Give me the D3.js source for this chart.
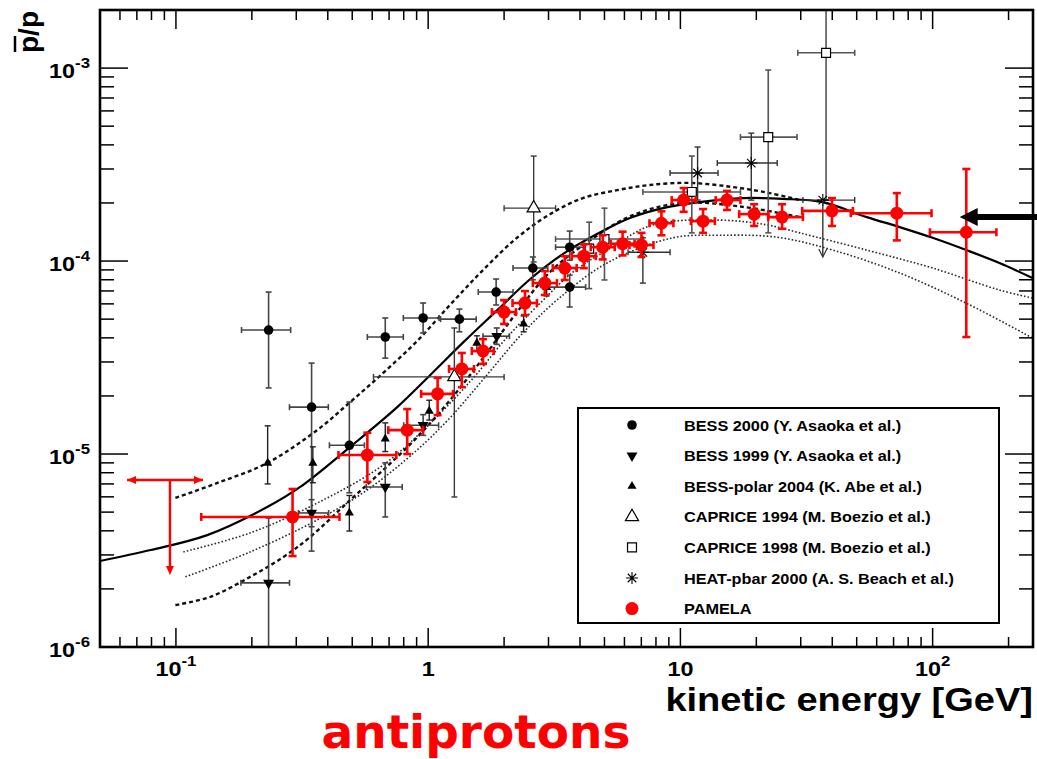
<!DOCTYPE html>
<html>
<head>
<meta charset="utf-8">
<script src="https://cdn.jsdelivr.net/npm/d3@7"></script>
<style>
  body { margin: 0; background: #fff; }
  svg { display: block; }
</style>
</head>
<body>
<svg id="chart" width="1037" height="759"></svg>
<script>
// ---- data: [E (GeV), pbar/p, Elo, Ehi, rlo, rhi] ----
const pamela = [
  [0.290, 4.72e-6, 0.126, 0.445, 2.96e-6, 6.59e-6],
  [0.574, 9.88e-6, 0.441, 0.748, 7.16e-6, 1.29e-5],
  [0.826, 1.33e-5, 0.695, 0.955, 1.00e-5, 1.71e-5],
  [1.09, 2.05e-5, 0.938, 1.255, 1.59e-5, 2.48e-5],
  [1.36, 2.76e-5, 1.21, 1.52, 2.22e-5, 3.34e-5],
  [1.65, 3.42e-5, 1.49, 1.82, 2.93e-5, 3.94e-5],
  [2.00, 5.44e-5, 1.79, 2.23, 4.72e-5, 6.27e-5],
  [2.42, 6.06e-5, 2.16, 2.70, 5.25e-5, 6.99e-5],
  [2.90, 7.69e-5, 2.60, 3.24, 6.67e-5, 8.87e-5],
  [3.48, 9.20e-5, 3.12, 3.88, 7.98e-5, 1.06e-4],
  [4.14, 1.06e-4, 3.71, 4.62, 9.19e-5, 1.22e-4],
  [4.92, 1.18e-4, 4.41, 5.49, 1.02e-4, 1.36e-4],
  [5.90, 1.23e-4, 5.29, 6.58, 1.07e-4, 1.42e-4],
  [7.01, 1.21e-4, 6.28, 7.82, 1.05e-4, 1.40e-4],
  [8.41, 1.57e-4, 7.54, 9.38, 1.36e-4, 1.81e-4],
  [10.3, 2.07e-4, 9.24, 11.5, 1.80e-4, 2.39e-4],
  [12.3, 1.61e-4, 11.0, 13.7, 1.40e-4, 1.86e-4],
  [15.3, 2.07e-4, 13.8, 17.3, 1.84e-4, 2.31e-4],
  [19.6, 1.75e-4, 17.1, 22.3, 1.52e-4, 1.97e-4],
  [25.3, 1.69e-4, 22.3, 30.6, 1.47e-4, 1.97e-4],
  [39.9, 1.82e-4, 30.4, 48.3, 1.52e-4, 2.12e-4],
  [72.1, 1.77e-4, 47.4, 99.0, 1.28e-4, 2.25e-4],
  [136, 1.41e-4, 97.6, 179, 4.04e-5, 3.0e-4]
];
// upper limit: [E, r, Elo, Ehi, arrow end]
const pamelaLimit = [0.0947, 7.33e-6, 0.064, 0.128, 2.36e-6];

const bess2000 = [
  [0.233, 4.39e-5, 0.182, 0.285, 2.20e-5, 6.91e-5],
  [0.345, 1.75e-5, 0.282, 0.402, 3.14e-6, 2.96e-5],
  [0.487, 1.11e-5, 0.406, 0.559, 6.3e-6, 1.86e-5],
  [0.676, 4.04e-5, 0.574, 0.797, 3.14e-5, 5.07e-5],
  [0.955, 5.07e-5, 0.797, 1.105, 4.24e-5, 6.06e-5],
  [1.33, 5.0e-5, 1.12, 1.55, 4.3e-5, 5.64e-5],
  [1.86, 6.91e-5, 1.58, 2.17, 5.92e-5, 8.07e-5],
  [2.60, 9.20e-5, 2.17, 2.98, 8.0e-5, 1.05e-4],
  [3.64, 1.18e-4, 3.2, 4.2, 1.01e-4, 1.43e-4],
  [3.64, 7.33e-5, 2.98, 4.21, 5.78e-5, 8.46e-5]
];
const bess1999 = [
  [0.233, 2.15e-6, 0.181, 0.282, 5e-7, 4.66e-6],
  [0.345, 4.95e-6, 0.306, 0.403, 4.2e-6, 5.8e-6],
  [0.676, 6.75e-6, 0.569, 0.789, 4.72e-6, 9.0e-6],
  [0.955, 1.41e-5, 0.80, 1.10, 1.25e-5, 1.6e-5],
  [1.87, 4.08e-5, 1.65, 2.10, 3.7e-5, 4.5e-5]
];
const bessPolar = [
  [0.231, 8.98e-6, null, null, 7.0e-6, 1.40e-5],
  [0.349, 8.98e-6, null, null, 7.1e-6, 1.09e-5],
  [0.487, 4.95e-6, null, null, 3.99e-6, 6.1e-6],
  [0.676, 1.20e-5, null, null, 1.03e-5, 1.45e-5],
  [1.01, 1.67e-5, null, null, 1.5e-5, 1.9e-5],
  [1.56, 3.76e-5, null, null, 3.4e-5, 4.1e-5],
  [2.39, 4.72e-5, null, null, 4.3e-5, 5.2e-5],
  [2.95, 7.3e-5, null, null, 6.6e-5, 8.0e-5]
];
const caprice1994 = [
  [1.27, 2.51e-5, 0.607, 2.0, 5.99e-6, 4.5e-5],
  [2.62, 1.88e-4, 2.0, 3.2, 9.89e-5, 3.5e-4]
];
const caprice1998 = [
  [4.35, 1.16e-4, null, null, 7.2e-5, 1.59e-4],
  [5.0, 1.30e-4, 3.2, 7.1, 7.98e-5, 1.88e-4],
  [11.1, 2.28e-4, 7.1, 17.3, 1.40e-4, 3.50e-4],
  [22.3, 4.39e-4, 17.3, 29.0, 1.40e-4, 9.77e-4],
  [37.8, 1.20e-3, 29.2, 49.1, 2.07e-4, 5e-3]
];
const heat2000 = [
  [7.1, 1.11e-4, 6.2, 9.1, 7.69e-5, 1.32e-4],
  [11.7, 2.86e-4, 9.1, 14.1, 2.07e-4, 3.90e-4],
  [19.1, 3.22e-4, 14.0, 24.2, 2.07e-4, 4.6e-4],
  [36.7, 2.07e-4, 30.6, 49.1, null, null]
];
const heatLimit = [36.7, 2.07e-4, 1.05e-4];

// ---- model curves: [E, r] ----
const curveSolid = [
  [0.05, 2.79e-6], [0.0793, 3.18e-6], [0.133, 3.80e-6], [0.230, 5.31e-6], [0.311, 6.75e-6],
  [0.491, 1.09e-5], [0.754, 1.75e-5], [1.02, 2.57e-5], [1.38, 3.80e-5], [1.88, 5.57e-5],
  [2.54, 8.07e-5], [3.43, 1.09e-4], [4.67, 1.38e-4], [6.31, 1.67e-4], [8.53, 1.88e-4],
  [11.9, 2.02e-4], [17.7, 2.12e-4], [25.5, 2.10e-4], [36.6, 2.02e-4], [54.8, 1.69e-4],
  [74.0, 1.50e-4], [100, 1.32e-4], [136, 1.14e-4], [184, 9.77e-5], [249, 8.17e-5]
];
const curveDashUp = [
  [0.0995, 5.92e-6], [0.146, 7.08e-6], [0.230, 8.98e-6], [0.363, 1.33e-5], [0.491, 1.86e-5],
  [0.663, 2.63e-5], [0.904, 3.85e-5], [1.22, 5.92e-5], [1.65, 8.98e-5], [2.25, 1.32e-4],
  [3.04, 1.75e-4], [4.11, 2.12e-4], [5.61, 2.33e-4], [7.57, 2.48e-4], [10.9, 2.54e-4],
  [16.1, 2.42e-4], [22.6, 2.25e-4], [29.7, 2.07e-4]
];
const curveDashLow = [
  [0.0995, 1.65e-6], [0.137, 1.82e-6], [0.197, 2.31e-6], [0.267, 2.93e-6], [0.341, 3.72e-6],
  [0.491, 5.78e-6], [0.663, 8.26e-6], [0.904, 1.22e-5], [1.22, 1.90e-5], [1.65, 3.14e-5],
  [2.25, 5.44e-5], [3.04, 8.77e-5], [4.38, 1.28e-4], [6.48, 1.73e-4], [10.2, 2.00e-4],
  [17.7, 1.91e-4], [29.7, 1.69e-4]
];
const curveDotUp = [
  [0.107, 3.11e-6], [0.197, 3.90e-6], [0.363, 5.57e-6], [0.663, 8.77e-6], [1.05, 1.50e-5],
  [1.51, 2.48e-5], [2.06, 4.04e-5], [2.78, 6.05e-5], [3.75, 8.77e-5], [5.12, 1.14e-4],
  [7.78, 1.54e-4], [14.3, 1.63e-4], [22.0, 1.54e-4], [29.7, 1.40e-4], [54.8, 1.14e-4],
  [100, 9.20e-5], [184, 7.08e-5], [249, 6.43e-5]
];
const curveDotLow = [
  [0.109, 2.31e-6], [0.197, 3.11e-6], [0.363, 4.55e-6], [0.573, 6.51e-6], [0.904, 1.05e-5],
  [1.22, 1.54e-5], [1.71, 2.57e-5], [2.31, 4.08e-5], [3.24, 6.28e-5], [5.12, 9.77e-5],
  [9.34, 1.32e-4], [14.3, 1.36e-4], [24.1, 1.33e-4], [40.2, 1.14e-4], [74.0, 8.67e-5],
  [136, 6.05e-5], [249, 3.99e-5]
];

// big annotation arrow: [E tip, E tail, r]
const sideArrow = [128, 262, 1.69e-4];

const xTickValues = [0.1, 1, 10, 100];
const xTickText = [['10', '-1'], ['1', ''], ['10', ''], ['10', '2']];
const yTickValues = [1e-6, 1e-5, 1e-4, 1e-3];
const yTickText = [['10', '-6'], ['10', '-5'], ['10', '-4'], ['10', '-3']];

const legendLabels = [
  'BESS 2000 (Y. Asaoka et al.)',
  'BESS 1999 (Y. Asaoka et al.)',
  'BESS-polar 2004 (K. Abe et al.)',
  'CAPRICE 1994 (M. Boezio et al.)',
  'CAPRICE 1998 (M. Boezio et al.)',
  'HEAT-pbar 2000 (A. S. Beach et al.)',
  'PAMELA'
];
const legendMarkers = ['circle', 'down', 'up', 'openTri', 'square', 'star', 'red'];

// ---- layout ----
const font = "'Liberation Sans', Arial, Helvetica, sans-serif";
const plot = { left: 100, right: 1033, top: 10, bottom: 647 };
const svg = d3.select('#chart');

const x = d3.scaleLog().domain([0.05, 250]).range([plot.left, plot.right]);
const y = d3.scaleLog().domain([1e-6, 2e-3]).range([plot.bottom, plot.top]);

svg.append('defs').append('clipPath').attr('id', 'plotclip')
  .append('rect')
  .attr('x', plot.left).attr('y', plot.top)
  .attr('width', plot.right - plot.left).attr('height', plot.bottom - plot.top);

const data = svg.append('g').attr('clip-path', 'url(#plotclip)');

// curves
const line = d3.line().x(d => x(d[0])).y(d => y(d[1])).curve(d3.curveCatmullRom.alpha(0.5));
function drawCurve(pts, width, dash, color) {
  data.append('path').attr('d', line(pts))
    .attr('fill', 'none').attr('stroke', color).attr('stroke-width', width)
    .attr('stroke-dasharray', dash);
}
drawCurve(curveDotUp, 1.6, '1.6,2', '#2a2a2a');
drawCurve(curveDotLow, 1.6, '1.6,2', '#2a2a2a');
drawCurve(curveDashUp, 2.4, '4,3', '#111');
drawCurve(curveDashLow, 2.4, '4,3', '#111');
drawCurve(curveSolid, 2.2, null, '#000');

// markers
function drawMarker(g, kind, cx, cy) {
  const t = `translate(${cx},${cy})`;
  if (kind === 'circle') {
    g.append('circle').attr('cx', cx).attr('cy', cy).attr('r', 4.8).attr('fill', '#000');
  } else if (kind === 'red') {
    g.append('circle').attr('cx', cx).attr('cy', cy).attr('r', 6.5).attr('fill', '#ff0000');
  } else if (kind === 'down') {
    g.append('path').attr('d', d3.symbol(d3.symbolTriangle, 52)())
      .attr('transform', t + ' rotate(180)').attr('fill', '#000');
  } else if (kind === 'up') {
    g.append('path').attr('d', d3.symbol(d3.symbolTriangle, 36)())
      .attr('transform', t).attr('fill', '#000');
  } else if (kind === 'openTri') {
    g.append('path').attr('d', d3.symbol(d3.symbolTriangle, 75)())
      .attr('transform', t).attr('fill', '#fff').attr('stroke', '#000').attr('stroke-width', 1.2);
  } else if (kind === 'square') {
    g.append('path').attr('d', d3.symbol(d3.symbolSquare, 80)())
      .attr('transform', t).attr('fill', '#fff').attr('stroke', '#000').attr('stroke-width', 1.2);
  } else if (kind === 'star') {
    const r = 6;
    const p = d3.path();
    [0, 45, 90, 135].forEach(a => {
      const dx = r * Math.cos(a * Math.PI / 180), dy = r * Math.sin(a * Math.PI / 180);
      p.moveTo(-dx, -dy); p.lineTo(dx, dy);
    });
    g.append('path').attr('d', p.toString()).attr('transform', t)
      .attr('stroke', '#000').attr('stroke-width', 1.1).attr('fill', 'none');
  }
}

function drawSeries(rows, kind, color, width, cap) {
  const g = data.append('g');
  rows.forEach(d => {
    const cx = x(d[0]), cy = y(d[1]);
    if (d[2] != null) {
      const x0 = x(d[2]), x1 = x(d[3]);
      g.append('line').attr('x1', x0).attr('x2', x1).attr('y1', cy).attr('y2', cy)
        .attr('stroke', color).attr('stroke-width', width);
      [x0, x1].forEach(xx => g.append('line').attr('x1', xx).attr('x2', xx)
        .attr('y1', cy - cap).attr('y2', cy + cap).attr('stroke', color).attr('stroke-width', width));
    }
    if (d[4] != null) {
      const y0 = y(d[4]), y1 = y(d[5]);
      g.append('line').attr('x1', cx).attr('x2', cx).attr('y1', y0).attr('y2', y1)
        .attr('stroke', color).attr('stroke-width', width);
      [y0, y1].forEach(yy => g.append('line').attr('y1', yy).attr('y2', yy)
        .attr('x1', cx - cap).attr('x2', cx + cap).attr('stroke', color).attr('stroke-width', width));
    }
  });
  rows.forEach(d => drawMarker(g, kind, x(d[0]), y(d[1])));
}

drawSeries(caprice1994, 'openTri', '#3a3a3a', 1.4, 3);
drawSeries(caprice1998, 'square', '#555', 1.6, 3);
drawSeries(heat2000, 'star', '#333', 1.4, 3);
drawSeries(bess2000, 'circle', '#444', 1.6, 3);
drawSeries(bess1999, 'down', '#444', 1.6, 3);
drawSeries(bessPolar, 'up', '#222', 1.4, 3);

// HEAT upper limit arrow
{
  const cx = x(heatLimit[0]), y0 = y(heatLimit[1]), y1 = y(heatLimit[2]);
  data.append('line').attr('x1', cx).attr('x2', cx).attr('y1', y0).attr('y2', y1)
    .attr('stroke', '#333').attr('stroke-width', 1.4);
  data.append('path').attr('d', `M${cx - 4},${y1 - 8}L${cx},${y1}L${cx + 4},${y1 - 8}`)
    .attr('fill', 'none').attr('stroke', '#333').attr('stroke-width', 1.2);
}

drawSeries(pamela, 'red', '#ff0000', 2.6, 4);

// PAMELA upper limit
{
  const [e, r, e0, e1, rEnd] = pamelaLimit;
  const cx = x(e), cy = y(r), x0 = x(e0), x1 = x(e1), yEnd = y(rEnd);
  const red = '#ff0000';
  data.append('line').attr('x1', x0).attr('x2', x1).attr('y1', cy).attr('y2', cy)
    .attr('stroke', red).attr('stroke-width', 2.4);
  data.append('line').attr('x1', cx).attr('x2', cx).attr('y1', cy).attr('y2', yEnd - 4)
    .attr('stroke', red).attr('stroke-width', 2.4);
  data.append('path').attr('d', `M${x0},${cy}L${x0 + 9},${cy - 4}L${x0 + 9},${cy + 4}Z`).attr('fill', red);
  data.append('path').attr('d', `M${x1},${cy}L${x1 - 9},${cy - 4}L${x1 - 9},${cy + 4}Z`).attr('fill', red);
  data.append('path').attr('d', `M${cx},${yEnd}L${cx - 4},${yEnd - 9}L${cx + 4},${yEnd - 9}Z`).attr('fill', red);
}

// big arrow on the right
{
  const xt = x(sideArrow[0]), xe = x(sideArrow[1]), ya = y(sideArrow[2]);
  svg.append('line').attr('x1', xt + 14).attr('x2', xe).attr('y1', ya).attr('y2', ya)
    .attr('stroke', '#000').attr('stroke-width', 6);
  svg.append('path').attr('d', `M${xt},${ya}L${xt + 18},${ya - 9}L${xt + 18},${ya + 9}Z`).attr('fill', '#000');
}

// ---- frame and ticks ----
const axes = svg.append('g');
const isMajor = v => Math.abs(Math.log10(v) - Math.round(Math.log10(v))) < 1e-6;

x.ticks().forEach(v => {
  const xx = x(v);
  if (xx <= plot.left + 1 || xx >= plot.right - 1) return;
  const len = isMajor(v) ? 19 : 10;
  axes.append('line').attr('x1', xx).attr('x2', xx).attr('y1', plot.bottom).attr('y2', plot.bottom - len)
    .attr('stroke', '#000').attr('stroke-width', 1.5);
  axes.append('line').attr('x1', xx).attr('x2', xx).attr('y1', plot.top).attr('y2', plot.top + len)
    .attr('stroke', '#000').attr('stroke-width', 1.5);
});
y.ticks().forEach(v => {
  const yy = y(v);
  if (yy <= plot.top + 1 || yy >= plot.bottom - 1) return;
  const len = isMajor(v) ? 28 : 14;
  axes.append('line').attr('y1', yy).attr('y2', yy).attr('x1', plot.left).attr('x2', plot.left + len)
    .attr('stroke', '#000').attr('stroke-width', 1.5);
  axes.append('line').attr('y1', yy).attr('y2', yy).attr('x1', plot.right).attr('x2', plot.right - len)
    .attr('stroke', '#000').attr('stroke-width', 1.5);
});

axes.append('rect')
  .attr('x', plot.left).attr('y', plot.top)
  .attr('width', plot.right - plot.left).attr('height', plot.bottom - plot.top)
  .attr('fill', 'none').attr('stroke', '#000').attr('stroke-width', 2.6);

// tick labels (horizontally stretched like the original)
function powerLabel(px, py, anchor, parts) {
  const t = svg.append('text')
    .attr('transform', `translate(${px},${py}) scale(1.2,1)`)
    .attr('text-anchor', anchor)
    .attr('font-family', font).attr('font-weight', 'bold').attr('font-size', 19.5)
    .attr('fill', '#000');
  t.append('tspan').text(parts[0]);
  if (parts[1]) t.append('tspan').attr('dy', -10).attr('font-size', 14).text(parts[1]);
}
xTickValues.forEach((v, i) => powerLabel(x(v), plot.bottom + 29, 'middle', xTickText[i]));
yTickValues.forEach((v, i) => powerLabel(90, y(v) + 10, 'end', yTickText[i]));

// axis titles
svg.append('text')
  .attr('transform', `translate(${plot.right},711) scale(1.17,1)`)
  .attr('text-anchor', 'end')
  .attr('font-family', font).attr('font-weight', 'bold').attr('font-size', 32.5)
  .text('kinetic energy [GeV]');

const yTitle = svg.append('g').attr('transform', 'translate(38,53) rotate(-90)');
yTitle.append('text')
  .attr('font-family', font).attr('font-weight', 'bold').attr('font-size', 28)
  .text('p/p');
yTitle.append('line').attr('x1', 1).attr('x2', 17).attr('y1', -23).attr('y2', -23)
  .attr('stroke', '#000').attr('stroke-width', 2.5);

// big red label
svg.append('text')
  .attr('x', 476).attr('y', 748)
  .attr('text-anchor', 'middle')
  .attr('font-family', "'DejaVu Sans', sans-serif").attr('font-weight', 'bold').attr('font-size', 47)
  .attr('fill', '#ff0000')
  .text('antiprotons');

// ---- legend ----
const legend = svg.append('g');
legend.append('rect')
  .attr('x', 578).attr('y', 408).attr('width', 421).attr('height', 215)
  .attr('fill', '#fff').attr('stroke', '#000').attr('stroke-width', 2);
legendLabels.forEach((label, i) => {
  const ly = 425 + i * 30.6;
  drawMarker(legend, legendMarkers[i], 632, ly);
  legend.append('text')
    .attr('transform', `translate(684,${ly + 5.5}) scale(1.05,1)`)
    .attr('font-family', font).attr('font-weight', 'bold').attr('font-size', 15.5)
    .text(label);
});
</script>
</body>
</html>
